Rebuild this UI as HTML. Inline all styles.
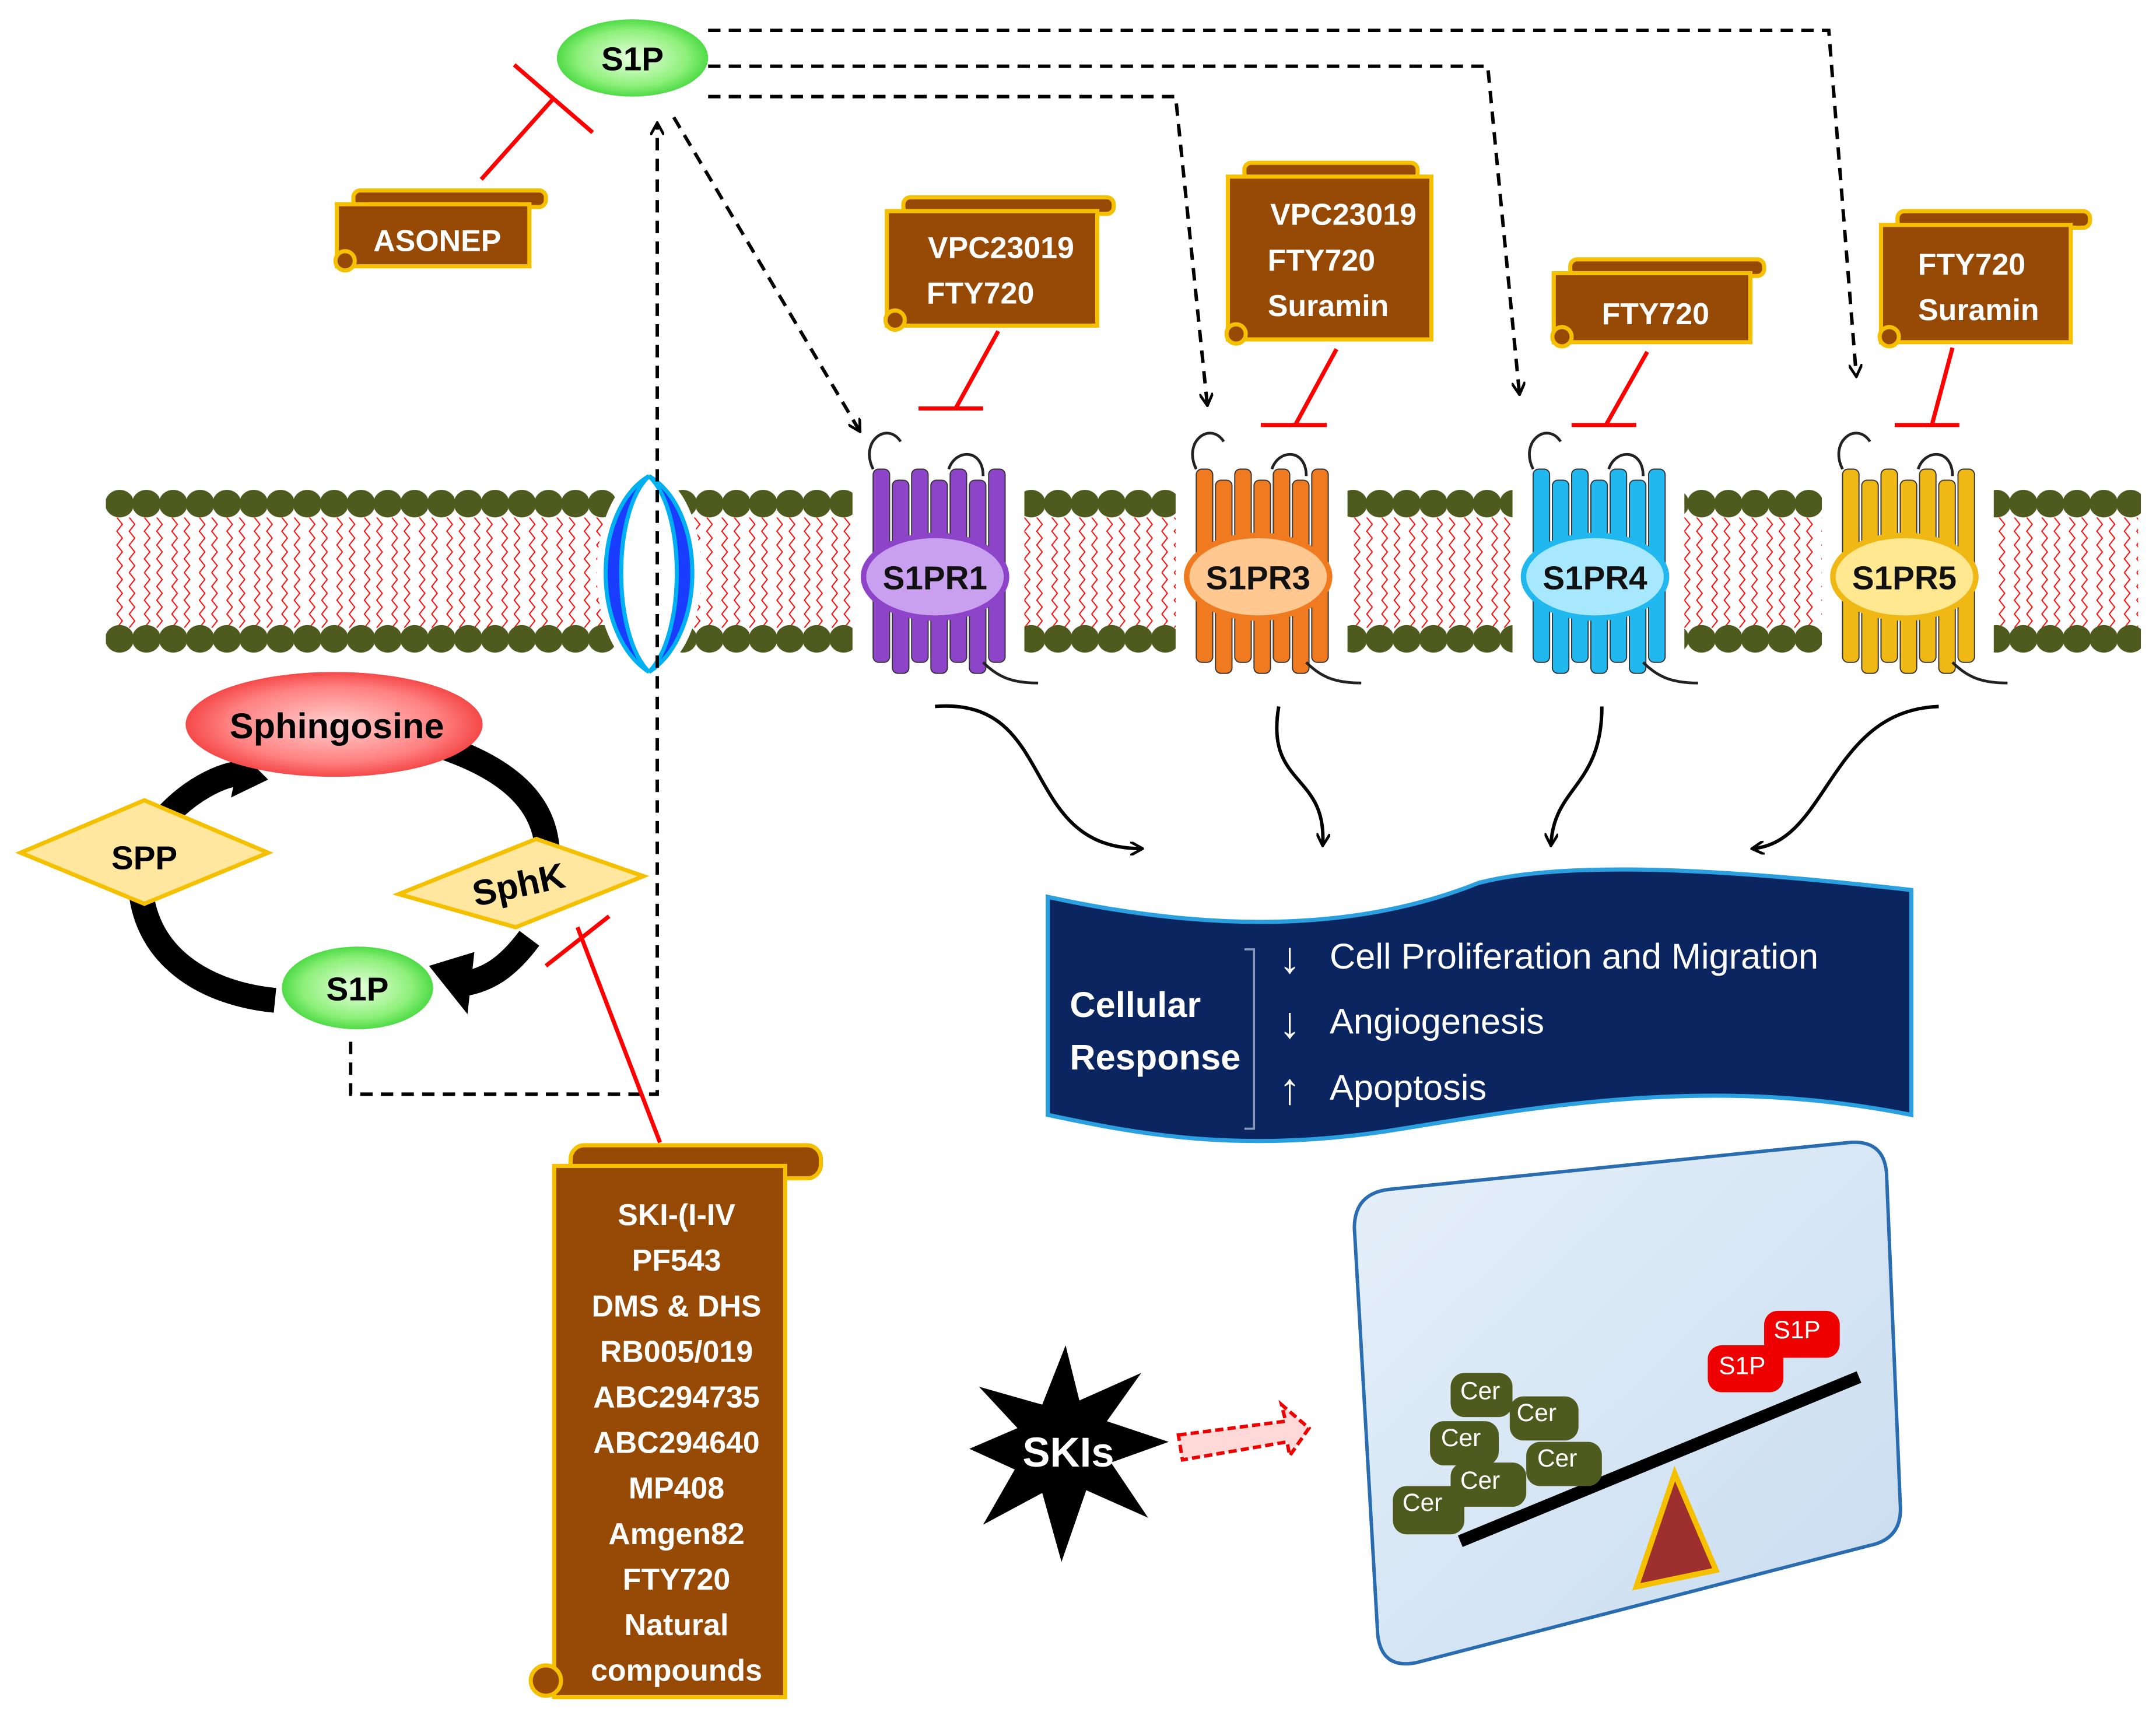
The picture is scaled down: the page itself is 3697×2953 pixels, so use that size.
<!DOCTYPE html>
<html><head><meta charset="utf-8"><style>html,body{margin:0;padding:0;background:#fff}svg{display:block}</style></head><body>
<svg width="3697" height="2953" viewBox="0 0 1568 1248" preserveAspectRatio="none" xmlns="http://www.w3.org/2000/svg" xmlns:xlink="http://www.w3.org/1999/xlink" font-family="Liberation Sans, sans-serif">
<defs>
<radialGradient id="g" cx="50%" cy="50%" r="60%"><stop offset="0" stop-color="#e8ffe0"/><stop offset="0.6" stop-color="#8ef07a"/><stop offset="1" stop-color="#22cc22"/></radialGradient>
<radialGradient id="r" cx="50%" cy="50%" r="60%"><stop offset="0" stop-color="#ffd0d0"/><stop offset="0.6" stop-color="#ff8080"/><stop offset="1" stop-color="#ee2222"/></radialGradient>
<pattern id="lip" width="20" height="40" patternUnits="userSpaceOnUse" x="0" y="375">
<path d="M5 0 l4 5 l-4 5 l4 5 l-4 5 l4 5 l-4 5 l4 5 l-4 5 M14 0 l4 5 l-4 5 l4 5 l-4 5 l4 5 l-4 5 l4 5 l-4 5" stroke="#f00" stroke-width="0.8" fill="none"/>
</pattern>
<pattern id="dot" width="19.5" height="22" patternUnits="userSpaceOnUse" x="77" y="354">
<ellipse cx="10" cy="11" rx="10.5" ry="10" fill="#4e5a1e"/>
</pattern>
<pattern id="dot2" width="19.5" height="22" patternUnits="userSpaceOnUse" x="77" y="452">
<ellipse cx="10" cy="11" rx="10.5" ry="10" fill="#4e5a1e"/>
</pattern>
<marker id="ah" markerWidth="10" markerHeight="10" refX="8" refY="5" orient="auto" markerUnits="userSpaceOnUse"><path d="M0 0 L9 5 L0 10" fill="none" stroke="#000" stroke-width="2"/></marker>
<linearGradient id="bg" x1="0" y1="0" x2="1" y2="1"><stop offset="0" stop-color="#e6f0fa"/><stop offset="1" stop-color="#c8dcef"/></linearGradient>
<g id="rb">
<rect x="-60" y="300" width="125" height="205" fill="#fff"/>
<rect x="-45" y="340" width="12" height="140" rx="4" fill="currentColor" stroke="#333" stroke-width="0.8"/>
<rect x="-31" y="348" width="12" height="140" rx="4" fill="currentColor" stroke="#333" stroke-width="0.8"/>
<rect x="-17" y="340" width="12" height="140" rx="4" fill="currentColor" stroke="#333" stroke-width="0.8"/>
<rect x="-3" y="348" width="12" height="140" rx="4" fill="currentColor" stroke="#333" stroke-width="0.8"/>
<rect x="11" y="340" width="12" height="140" rx="4" fill="currentColor" stroke="#333" stroke-width="0.8"/>
<rect x="25" y="348" width="12" height="140" rx="4" fill="currentColor" stroke="#333" stroke-width="0.8"/>
<rect x="39" y="340" width="12" height="140" rx="4" fill="currentColor" stroke="#333" stroke-width="0.8"/>
<path d="M-45 340 c-10 -20 10 -35 20 -20 M10 340 c5 -15 25 -15 25 5 M35 480 c10 10 20 15 40 15" stroke="#222" stroke-width="2" fill="none"/>
</g>
</defs>

<!-- membrane -->
<rect x="80" y="375" width="1475" height="80" fill="url(#lip)"/>
<rect x="77" y="354" width="1480" height="22" fill="url(#dot)"/>
<rect x="77" y="452" width="1480" height="22" fill="url(#dot2)"/>

<!-- channel -->
<ellipse cx="472" cy="415" rx="38" ry="72" fill="#fff"/>
<path d="M472 345 C430 370 430 460 472 487 C445 460 445 370 472 345Z" fill="#1a3cff" stroke="#00b0f0" stroke-width="3"/>
<path d="M472 345 C514 370 514 460 472 487 C499 460 499 370 472 345Z" fill="#1a3cff" stroke="#00b0f0" stroke-width="3"/>

<!-- receptors -->
<use xlink:href="#rb" href="#rb" x="680" style="color:#8e44c8"/>
<use xlink:href="#rb" href="#rb" x="915" style="color:#f07a20"/>
<use xlink:href="#rb" href="#rb" x="1160" style="color:#20b8ee"/>
<use xlink:href="#rb" href="#rb" x="1385" style="color:#f0b814"/>
<g font-size="24" font-weight="bold" fill="#111" text-anchor="middle">
<ellipse cx="680" cy="418" rx="52" ry="30" fill="#c9a0f0" stroke="#8e44c8" stroke-width="4"/><text x="680" y="427">S1PR1</text>
<ellipse cx="915" cy="418" rx="52" ry="30" fill="#ffc890" stroke="#f07a20" stroke-width="4"/><text x="915" y="427">S1PR3</text>
<ellipse cx="1160" cy="418" rx="52" ry="30" fill="#a8e8ff" stroke="#20b8ee" stroke-width="4"/><text x="1160" y="427">S1PR4</text>
<ellipse cx="1385" cy="418" rx="52" ry="30" fill="#ffe890" stroke="#f0b814" stroke-width="4"/><text x="1385" y="427">S1PR5</text>
</g>

<!-- dashed connectors -->
<g stroke="#000" stroke-width="2.5" fill="none" stroke-dasharray="9 6">
<path d="M515 22 H1330 L1350 272" marker-end="url(#ah)"/>
<path d="M515 48 H1082 L1105 285" marker-end="url(#ah)"/>
<path d="M515 70 H855 L878 293" marker-end="url(#ah)"/>
<path d="M490 85 L625 312" marker-end="url(#ah)"/>
<path d="M255 755 V793 H478 V90" marker-end="url(#ah)"/>
</g>

<!-- top S1P -->
<ellipse cx="460" cy="42" rx="55" ry="28" fill="url(#g)"/>
<text x="460" y="51" text-anchor="middle" font-size="24" font-weight="bold">S1P</text>

<!-- inhibitors red -->
<g stroke="#f00" stroke-width="3" fill="none">
<path d="M350 130 L402 72 M374 47 L431 96"/>
<path d="M726 240 L695 296 M668 296 L715 296"/>
<path d="M972 253 L942 308 M917 308 L965 308"/>
<path d="M1198 255 L1168 308 M1143 308 L1190 308"/>
<path d="M1420 252 L1405 308 M1378 308 L1425 308"/>
<path d="M480 828 L420 672 M397 700 L443 664"/>
</g>

<!-- scroll boxes -->
<g stroke="#f5c000" stroke-width="3" fill="#964a05">
<rect x="257" y="138" width="140" height="12" rx="5"/><rect x="245" y="148" width="140" height="45"/><circle cx="251" cy="189" r="7"/>
<rect x="657" y="143" width="153" height="12" rx="5"/><rect x="645" y="153" width="153" height="83"/><circle cx="651" cy="232" r="7"/>
<rect x="905" y="118" width="126" height="12" rx="5"/><rect x="893" y="128" width="148" height="118"/><circle cx="899" cy="242" r="7"/>
<rect x="1142" y="188" width="141" height="12" rx="5"/><rect x="1130" y="198" width="143" height="50"/><circle cx="1136" cy="244" r="7"/>
<rect x="1380" y="153" width="140" height="12" rx="5"/><rect x="1368" y="163" width="138" height="85"/><circle cx="1374" cy="244" r="7"/>
<rect x="415" y="830" width="182" height="24" rx="10"/><rect x="403" y="845" width="168" height="385"/><circle cx="397" cy="1218" r="11"/>
</g>
<g font-size="22" font-weight="bold" fill="#fff" text-anchor="middle">
<text x="318" y="182">ASONEP</text>
<text x="728" y="187">VPC23019</text><text x="713" y="220">FTY720</text>
<text x="977" y="163">VPC23019</text><text x="961" y="196">FTY720</text><text x="966" y="229">Suramin</text>
<text x="1204" y="235">FTY720</text>
<text x="1434" y="199">FTY720</text><text x="1439" y="232">Suramin</text>
<text x="492" y="888">SKI-(I-IV</text><text x="492" y="921">PF543</text><text x="492" y="954">DMS &amp; DHS</text><text x="492" y="987">RB005/019</text><text x="492" y="1020">ABC294735</text><text x="492" y="1053">ABC294640</text><text x="492" y="1086">MP408</text><text x="492" y="1119">Amgen82</text><text x="492" y="1152">FTY720</text><text x="492" y="1185">Natural</text><text x="492" y="1218">compounds</text>
</g>

<!-- curved arrows to response -->
<g stroke="#000" stroke-width="2.5" fill="none">
<path d="M680 512 C770 505 740 615 830 615" marker-end="url(#ah)"/>
<path d="M930 512 C920 570 965 560 962 612" marker-end="url(#ah)"/>
<path d="M1165 512 C1165 570 1130 570 1128 612" marker-end="url(#ah)"/>
<path d="M1410 512 C1330 515 1330 610 1275 615" marker-end="url(#ah)"/>
</g>

<!-- cellular response -->
<path d="M762 650 C900 680 1000 670 1075 640 C1150 620 1300 635 1390 645 L1390 808 C1250 780 1130 800 1020 818 C900 838 820 820 762 808 Z" fill="#0b2560" stroke="#2aa0e0" stroke-width="3"/>
<text x="778" y="737" font-size="26" font-weight="bold" fill="#fff">Cellular</text>
<text x="778" y="775" font-size="26" font-weight="bold" fill="#fff">Response</text>
<path d="M905 688 H912 V818 H905" stroke="#8899bb" stroke-width="1.5" fill="none"/>
<g fill="#fff" font-size="26">
<text x="930" y="705" font-size="32">↓</text><text x="967" y="702">Cell Proliferation and Migration</text>
<text x="930" y="752" font-size="32">↓</text><text x="967" y="749">Angiogenesis</text>
<text x="930" y="800" font-size="32">↑</text><text x="967" y="797">Apoptosis</text>
</g>

<!-- sphingosine cycle -->
<g stroke="#000" stroke-width="18" fill="none">
<path d="M318 540 C380 560 400 590 398 625"/>
<path d="M385 680 C370 700 355 712 330 714"/>
<path d="M200 725 C150 720 110 695 103 650"/>
<path d="M118 595 C135 575 160 560 180 560"/>
</g>
<g fill="#000"><path d="M312 700 L345 690 L340 735Z"/><path d="M175 545 L195 565 L168 578Z"/></g>
<ellipse cx="243" cy="525" rx="108" ry="38" fill="url(#r)"/>
<text x="245" y="535" text-anchor="middle" font-size="26" font-weight="bold">Sphingosine</text>
<path d="M15 618 L105 580 L195 618 L105 655Z" fill="#ffe7a0" stroke="#f5c000" stroke-width="3"/>
<text x="105" y="630" text-anchor="middle" font-size="24" font-weight="bold">SPP</text>
<path d="M290 648 L390 608 L468 635 L375 672Z" fill="#ffe7a0" stroke="#f5c000" stroke-width="3"/>
<text x="378" y="650" text-anchor="middle" font-size="26" font-weight="bold" transform="rotate(-12 378 645)">SphK</text>
<ellipse cx="260" cy="716" rx="55" ry="30" fill="url(#g)"/>
<text x="260" y="725" text-anchor="middle" font-size="24" font-weight="bold">S1P</text>

<!-- SKIs -->
<path d="M775 975 L785 1015 L830 995 L805 1030 L850 1045 L808 1060 L835 1100 L790 1080 L772 1132 L758 1082 L715 1105 L738 1065 L705 1050 L740 1035 L712 1005 L758 1018Z" fill="#000"/>
<text x="777" y="1063" text-anchor="middle" font-size="30" font-weight="bold" fill="#fff">SKIs</text>
<path d="M857 1040 L935 1030 L932 1018 L952 1035 L938 1055 L936 1045 L860 1058Z" fill="#ffd8d8" stroke="#e00" stroke-width="2.5" stroke-dasharray="6 3"/>

<!-- seesaw panel -->
<path d="M985 890 Q985 865 1010 862 L1345 828 Q1370 826 1372 850 L1382 1090 Q1384 1115 1360 1120 L1030 1205 Q1005 1210 1002 1185 Z" fill="url(#bg)" stroke="#2a6cb0" stroke-width="2.5"/>
<path d="M1062 1117 L1352 998" stroke="#000" stroke-width="9"/>
<path d="M1218 1068 L1190 1150 L1248 1138Z" fill="#9e2f2f" stroke="#f5c000" stroke-width="4"/>
<g font-size="18" fill="#fff">
<rect x="1055" y="995" width="45" height="32" rx="10" fill="#4e5a1e"/><text x="1062" y="1014">Cer</text>
<rect x="1098" y="1012" width="50" height="32" rx="10" fill="#4e5a1e"/><text x="1103" y="1030">Cer</text>
<rect x="1040" y="1030" width="50" height="32" rx="10" fill="#4e5a1e"/><text x="1048" y="1048">Cer</text>
<rect x="1110" y="1045" width="55" height="32" rx="10" fill="#4e5a1e"/><text x="1118" y="1063">Cer</text>
<rect x="1055" y="1060" width="55" height="32" rx="10" fill="#4e5a1e"/><text x="1062" y="1079">Cer</text>
<rect x="1013" y="1077" width="52" height="35" rx="10" fill="#4e5a1e"/><text x="1020" y="1095">Cer</text>
<rect x="1242" y="975" width="55" height="34" rx="10" fill="#ee0000"/><text x="1250" y="996">S1P</text>
<rect x="1283" y="950" width="55" height="34" rx="10" fill="#ee0000"/><text x="1290" y="970">S1P</text>
</g>
</svg>
</body></html>
